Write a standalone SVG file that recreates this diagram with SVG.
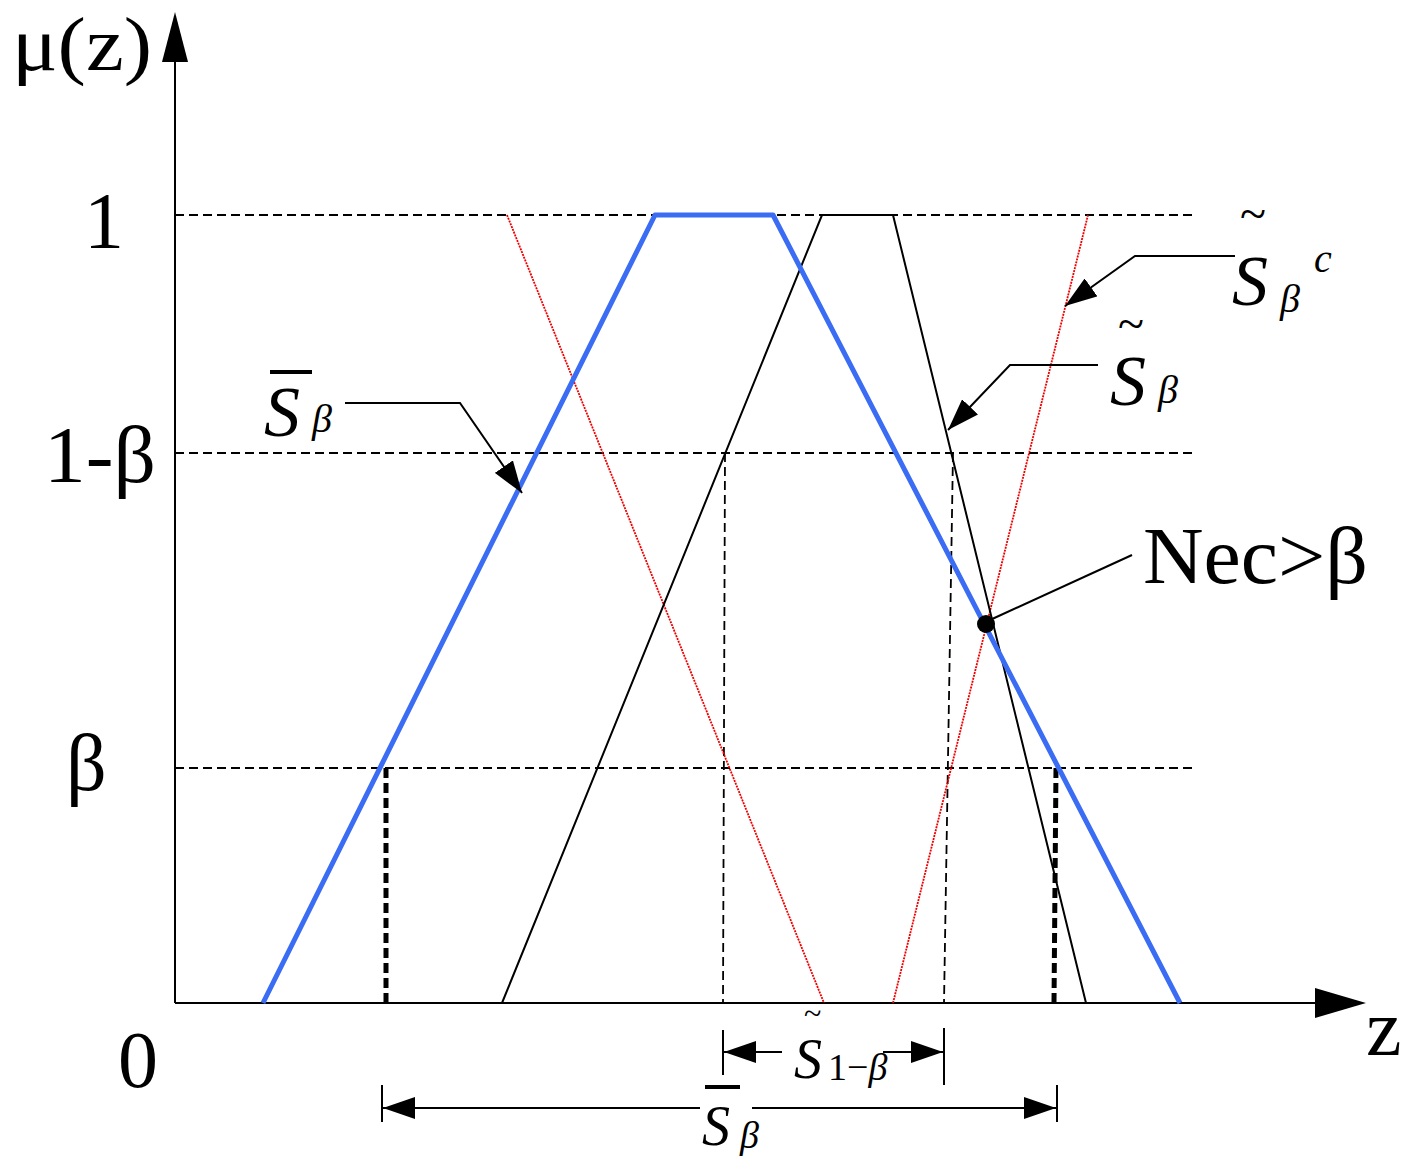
<svg xmlns="http://www.w3.org/2000/svg" width="1422" height="1173" viewBox="0 0 1422 1173">
<style>
text{font-family:"Liberation Serif","Times New Roman",serif;fill:#000}
.it{font-style:italic}
.d{stroke:#000;stroke-width:1.8;stroke-dasharray:9 5;fill:none}
.l{stroke:#000;stroke-width:2;fill:none}
</style>
<defs>
<marker id="b" markerWidth="32" markerHeight="22" refX="32" refY="11" orient="auto" markerUnits="userSpaceOnUse"><path d="M0,0L32,11L0,22z"/></marker>
</defs>
<g id="axes">
<line x1="175" y1="1003" x2="175" y2="60" class="l"/>
<path d="M162,62L175,12L188,62z"/>
<line x1="175" y1="1003" x2="1318" y2="1003" class="l"/>
<path d="M1315,988L1366,1003L1315,1018z"/>
</g>
<g id="gridlines">
<line x1="175" y1="215" x2="1192" y2="215" class="d"/>
<line x1="175" y1="453" x2="1192" y2="453" class="d"/>
<line x1="175" y1="768" x2="1192" y2="768" class="d"/>
<line x1="725" y1="453" x2="723" y2="1003" class="d"/>
<line x1="953" y1="453" x2="944" y2="1003" class="d"/>
<line x1="386" y1="768" x2="386" y2="1003" stroke="#000" stroke-width="5" stroke-dasharray="10 5"/>
<line x1="1056" y1="768" x2="1054" y2="1003" stroke="#000" stroke-width="5" stroke-dasharray="10 5"/>
</g>
<g id="red">
<line x1="507" y1="215" x2="824" y2="1003" stroke="#e00" stroke-width="1.8" stroke-dasharray="2 1"/>
<line x1="893" y1="1003" x2="1088" y2="215" stroke="#e00" stroke-width="1.8" stroke-dasharray="2 1"/>
</g>
<g id="black-trap"><polyline points="502,1003 822,215 893,215 1086,1003" class="l" stroke-width="1.6"/></g>
<g id="blue-trap"><polyline points="263,1003 655,215 773,215 1180,1003" fill="none" stroke="#3a6cf4" stroke-width="5" stroke-linejoin="round"/></g>
<g id="connectors">
<polyline points="345,403 460,403 522,493" class="l" marker-end="url(#b)"/>
<polyline points="1098,365 1010,365 948,430" class="l" marker-end="url(#b)"/>
<polyline points="1235,256 1135,256 1065,306" class="l" marker-end="url(#b)"/>
<line x1="990" y1="620" x2="1132" y2="555" class="l"/>
<circle cx="986" cy="624" r="9"/>
<line x1="723" y1="1030" x2="723" y2="1075" class="l"/>
<line x1="944" y1="1028" x2="944" y2="1085" class="l"/>
<line x1="782" y1="1052" x2="724" y2="1052" class="l" marker-end="url(#b)"/>
<line x1="883" y1="1052" x2="943" y2="1052" class="l" marker-end="url(#b)"/>
<line x1="382" y1="1085" x2="382" y2="1122" class="l"/>
<line x1="1057" y1="1085" x2="1057" y2="1122" class="l"/>
<line x1="700" y1="1108" x2="383" y2="1108" class="l" marker-end="url(#b)"/>
<line x1="752" y1="1108" x2="1056" y2="1108" class="l" marker-end="url(#b)"/>
</g>
<g id="labels" font-size="80">
<text x="12" y="70" font-size="76" textLength="140" lengthAdjust="spacingAndGlyphs">μ(z)</text>
<text x="84" y="248">1</text>
<text x="44" y="482" textLength="112" lengthAdjust="spacingAndGlyphs">1-β</text>
<text x="66" y="790">β</text>
<text x="118" y="1087">0</text>
<text x="1366" y="1055">z</text>
<text x="1143" y="583" font-size="80" textLength="225" lengthAdjust="spacingAndGlyphs">Nec&gt;β</text>
<line x1="270" y1="372" x2="312" y2="372" stroke="#000" stroke-width="4"/>
<text x="264" y="436" class="it" font-size="72">S</text><text x="312" y="432" class="it" font-size="40">β</text>
<text x="1118" y="340" font-size="48">~</text>
<text x="1110" y="405" class="it" font-size="72">S</text><text x="1158" y="403" class="it" font-size="40">β</text>
<text x="1240" y="230" font-size="48">~</text>
<text x="1232" y="305" class="it" font-size="72">S</text><text x="1280" y="312" class="it" font-size="40">β</text><text x="1314" y="272" class="it" font-size="40">c</text>
<text x="804" y="1024" font-size="32">~</text>
<text x="794" y="1078" class="it" font-size="56">S</text><text x="828" y="1080" font-size="38">1−<tspan class="it">β</tspan></text>
<line x1="705" y1="1087" x2="740" y2="1087" stroke="#000" stroke-width="4"/>
<text x="702" y="1145" class="it" font-size="56">S</text><text x="740" y="1148" class="it" font-size="38">β</text>
</g>
</svg>
